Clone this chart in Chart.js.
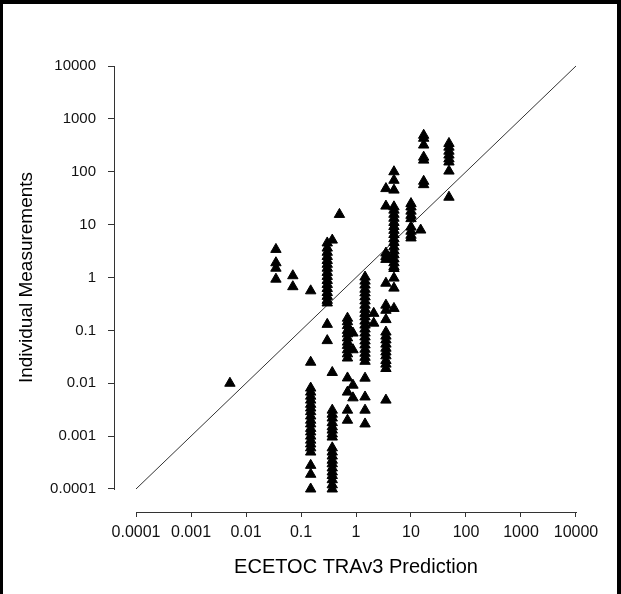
<!DOCTYPE html>
<html>
<head>
<meta charset="utf-8">
<script src="https://cdn.jsdelivr.net/npm/chart.js@4.4.1/dist/chart.umd.min.js"></script>
<style>
html,body{margin:0;padding:0;background:#fff;}
canvas{display:block;}
</style>
</head>
<body>
<canvas id="c" width="621" height="594"></canvas>
<script>
// ECETOC TRAv3 prediction (x) for each column of measurements
const predicted = [0.0051, 0.035, 0.071, 0.15, 0.3, 0.37, 0.5, 0.7, 0.88, 1.46, 2.1, 3.5, 4.9, 10, 15, 17, 49];
// Individual measurements (y) per predicted value
const measured = [
  [0.01],
  [3.4, 1.9, 1.5, 0.93],
  [1.08, 0.67],
  [0.56, 0.025, 0.0081, 0.0068, 0.0057, 0.0048, 0.004, 0.0034, 0.0029, 0.0024, 0.002, 0.0017, 0.0014, 0.0012, 0.001, 0.00084, 0.00071, 0.0006, 0.0005, 0.00028, 0.00019, 0.0001],
  [4.5, 3.6, 3.0, 2.5, 2.1, 1.78, 1.5, 1.25, 1.05, 0.88, 0.74, 0.62, 0.52, 0.44, 0.37, 0.33, 0.13, 0.064],
  [5.1, 0.016, 0.0031, 0.0026, 0.0022, 0.0018, 0.0015, 0.0013, 0.0011, 0.00096, 0.0006, 0.0005, 0.00042, 0.00035, 0.0003, 0.00025, 0.00021, 0.00018, 0.00015, 0.00012, 0.0001],
  [15.6],
  [0.17, 0.146, 0.123, 0.1, 0.086, 0.072, 0.06, 0.052, 0.043, 0.036, 0.03, 0.0126, 0.0068, 0.0031, 0.002],
  [0.089, 0.043, 0.0092, 0.0053],
  [1.02, 0.855, 0.72, 0.6, 0.51, 0.43, 0.36, 0.3, 0.25, 0.21, 0.18, 0.15, 0.126, 0.106, 0.089, 0.075, 0.063, 0.053, 0.044, 0.037, 0.031, 0.026, 0.0125, 0.0055, 0.0031, 0.0017],
  [0.21, 0.137],
  [48, 22.4, 2.9, 2.5, 2.2, 0.78, 0.3, 0.24, 0.16, 0.093, 0.078, 0.066, 0.055, 0.046, 0.039, 0.033, 0.027, 0.023, 0.019, 0.0048],
  [100, 69, 45, 21.7, 18.8, 15.7, 13.2, 11, 9.2, 7.8, 6.5, 5.4, 4.6, 3.8, 3.2, 2.7, 2.25, 1.9, 1.6, 1.48, 0.975, 0.63, 0.26],
  [25, 21.6, 18, 15, 13, 9, 7.5, 6.3, 5.6],
  [7.9],
  [490, 430, 320, 189, 166, 66, 57],
  [343, 292, 245, 207, 175, 153, 103, 33]
];
// Tick values and labels (both axes)
const tickValues = [0.0001, 0.001, 0.01, 0.1, 1, 10, 100, 1000, 10000];
const tickLabels = ['0.0001', '0.001', '0.01', '0.1', '1', '10', '100', '1000', '10000'];
// 1:1 reference line end points
const lineRange = [0.0001, 10000];

const points = [];
predicted.forEach((px, i) => measured[i].forEach(v => points.push({x: px, y: v})));

const FONT = "'Liberation Sans', Arial, sans-serif";

const framePlugin = {
  id: 'frame',
  beforeDraw(chart) {
    const ctx = chart.ctx;
    ctx.save();
    ctx.fillStyle = '#fff';
    ctx.fillRect(0, 0, chart.width, chart.height);
    ctx.fillStyle = '#000';
    ctx.fillRect(0, 0, chart.width, 4);
    ctx.fillRect(0, 0, 3, chart.height);
    ctx.fillRect(chart.width - 4, 0, 4, chart.height);
    ctx.restore();
  },
  afterDraw(chart) {
    const ctx = chart.ctx;
    const xs = chart.scales.x, ys = chart.scales.y;
    const a = chart.chartArea;
    ctx.save();
    ctx.strokeStyle = '#333';
    ctx.lineWidth = 1;
    ctx.beginPath();
    const yb = Math.round(a.bottom) + 0.5;
    ctx.moveTo(Math.round(xs.getPixelForValue(tickValues[0])), yb);
    ctx.lineTo(Math.round(xs.getPixelForValue(tickValues[tickValues.length - 1])) + 1, yb);
    const xl = Math.round(a.left) - 0.5;
    ctx.moveTo(xl, Math.round(ys.getPixelForValue(tickValues[tickValues.length - 1])));
    ctx.lineTo(xl, Math.round(ys.getPixelForValue(tickValues[0])) + 1);
    ctx.stroke();
    ctx.restore();
  }
};

const setTicks = (scale) => { scale.ticks = tickValues.map(v => ({value: v})); };
const lblCb = (v, i) => tickLabels[i];

new Chart(document.getElementById('c'), {
  data: {
    datasets: [
      {
        type: 'scatter',
        data: points,
        pointStyle: 'triangle',
        pointRadius: 6,
        pointHoverRadius: 6,
        backgroundColor: '#000',
        borderColor: '#000',
        borderWidth: 1,
        order: 0
      },
      {
        type: 'line',
        data: lineRange.map(v => ({x: v, y: v})),
        borderColor: '#333',
        borderWidth: 1,
        pointRadius: 0,
        fill: false,
        order: 1
      }
    ]
  },
  options: {
    responsive: false,
    animation: false,
    devicePixelRatio: 1,
    layout: {padding: {left: 0, right: 24, top: 43, bottom: 0}},
    plugins: {legend: {display: false}, tooltip: {enabled: false}},
    scales: {
      x: {
        type: 'logarithmic',
        position: 'bottom',
        min: Math.pow(10, -4.382),
        max: Math.pow(10, 4.382),
        afterBuildTicks: setTicks,
        afterFit(s) { s.height = 82; },
        border: {display: false},
        grid: {display: true, drawOnChartArea: false, drawTicks: true, tickLength: 5, color: '#333', lineWidth: 1},
        ticks: {autoSkip: false, maxRotation: 0, minRotation: 0, padding: 6, color: '#111',
                font: {family: FONT, size: 16}, callback: lblCb},
        title: {display: true, text: 'ECETOC TRAv3 Prediction', color: '#000',
                font: {family: FONT, size: 20}, padding: {top: 0, bottom: 15}}
      },
      y: {
        type: 'logarithmic',
        position: 'left',
        min: Math.pow(10, -4.435),
        max: Math.pow(10, 4.435),
        afterBuildTicks: setTicks,
        afterFit(s) { s.width = 115; },
        border: {display: false},
        grid: {display: true, drawOnChartArea: false, drawTicks: true, tickLength: 7, color: '#333', lineWidth: 1},
        ticks: {autoSkip: false, padding: 12, color: '#111',
                font: {family: FONT, size: 15}, callback: lblCb},
        title: {display: true, text: 'Individual Measurements', color: '#000',
                font: {family: FONT, size: 19}, padding: {top: 15, bottom: 0}}
      }
    }
  },
  plugins: [framePlugin]
});
</script>
</body>
</html>
